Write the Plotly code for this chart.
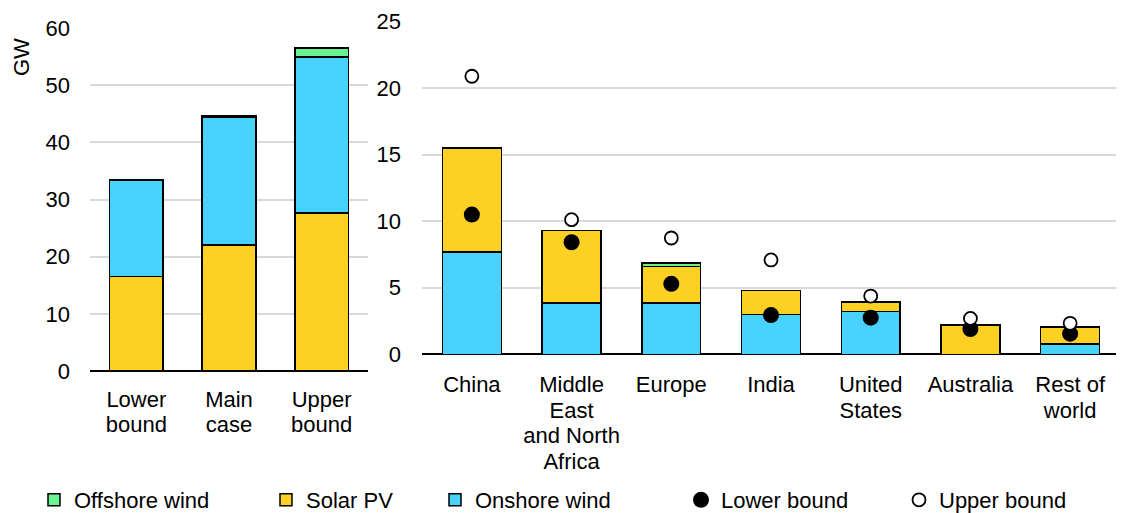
import plotly.graph_objects as go

# ---- data ----
cases = ["Lower bound", "Main case", "Upper bound"]
case_labels = ["Lower<br>bound", "Main<br>case", "Upper<br>bound"]
case_solar = [16.5, 22.0, 27.6]
case_onshore = [16.8, 22.4, 27.3]
case_offshore = [0.2, 0.3, 1.6]

regions = ["China", "Middle East and North Africa", "Europe", "India",
           "United States", "Australia", "Rest of world"]
region_labels = ["China", "Middle<br>East<br>and North<br>Africa", "Europe", "India",
                 "United<br>States", "Australia", "Rest of<br>world"]
reg_onshore = [7.7, 3.85, 3.85, 3.0, 3.2, 0.0, 0.77]
reg_solar = [7.8, 5.45, 2.75, 1.8, 0.73, 2.2, 1.28]
reg_offshore = [0.0, 0.0, 0.25, 0.0, 0.0, 0.0, 0.0]
reg_lower = [10.5, 8.42, 5.3, 2.95, 2.75, 1.9, 1.55]
reg_upper = [20.9, 10.12, 8.74, 7.09, 4.38, 2.7, 2.33]

C_SOLAR = "#FDD124"
C_ON = "#48D3FF"
C_OFF = "#6BF293"
FONT = "Liberation Sans, Arial, sans-serif"
FS = 22
line = dict(color="black", width=1.5)


def wrap(lbl):
    # glyphs at FS px, line pitch set by the (smaller) tick font size
    return "<br>".join(f'<span style="font-size:{FS}px">{p}</span>' for p in lbl.split("<br>"))


fig = go.Figure()

# left panel: solar bottom, onshore, offshore
fig.add_bar(x=cases, y=case_solar, marker=dict(color=C_SOLAR, line=line), width=0.58,
            xaxis="x", yaxis="y", showlegend=False, name="Solar PV")
fig.add_bar(x=cases, y=case_onshore, marker=dict(color=C_ON, line=line), width=0.58,
            xaxis="x", yaxis="y", showlegend=False, name="Onshore wind")
fig.add_bar(x=cases, y=case_offshore, marker=dict(color=C_OFF, line=line), width=0.58,
            xaxis="x", yaxis="y", showlegend=False, name="Offshore wind")

# right panel: onshore bottom, solar, offshore
fig.add_bar(x=regions, y=reg_onshore, marker=dict(color=C_ON, line=line), width=0.59,
            xaxis="x2", yaxis="y2", name="Onshore wind", legend="legend3")
fig.add_bar(x=regions, y=reg_solar, marker=dict(color=C_SOLAR, line=line), width=0.59,
            xaxis="x2", yaxis="y2", name="Solar PV", legend="legend2")
fig.add_bar(x=regions, y=reg_offshore, marker=dict(color=C_OFF, line=line), width=0.59,
            xaxis="x2", yaxis="y2", name="Offshore wind", legend="legend")
fig.add_scatter(x=regions, y=reg_lower, mode="markers", xaxis="x2", yaxis="y2",
                marker=dict(color="black", size=16, line=dict(color="black", width=0)),
                name="Lower bound", legend="legend4")
fig.add_scatter(x=regions, y=reg_upper, mode="markers", xaxis="x2", yaxis="y2",
                marker=dict(color="white", size=13, line=dict(color="black", width=1.8)),
                name="Upper bound", legend="legend5")

# page body has an 8px margin: figure occupies window pixels 8..1124 / 8..513
OFF = 8
W, H = 1124 - OFF, 513 - OFF
def fx(px): return (px - OFF) / W
def fy(py): return (H - (py - OFF)) / H

yaxis_common = dict(showgrid=True, gridcolor="#d9d9d9", gridwidth=1.5, zeroline=True,
                    zerolinecolor="black", zerolinewidth=2, ticks="", showline=False,
                    tickfont=dict(size=FS, color="black", family=FONT))
xaxis_common = dict(showline=False, ticks="", showgrid=False, type="category",
                    tickfont=dict(size=19.7, color="black", family=FONT))

leg_common = dict(orientation="h", font=dict(size=FS, color="black", family=FONT),
                  bgcolor="rgba(0,0,0,0)", xanchor="left", yanchor="middle", y=fy(500))

LEG_TXT = 41  # distance from legend box left to its text start
fig.update_layout(
    width=W, height=H, barmode="stack",
    plot_bgcolor="white", paper_bgcolor="white",
    margin=dict(l=0, r=0, t=0, b=0, autoexpand=False),
    font=dict(family=FONT, color="black"),
    xaxis=dict(domain=[fx(90), fx(368)], anchor="y", **xaxis_common, ticklabelstandoff=15,
               tickmode="array", tickvals=cases, ticktext=[wrap(t) for t in case_labels]),
    yaxis=dict(domain=[fy(371), fy(28)], range=[0, 60], dtick=10, anchor="x",
               ticklabelstandoff=19, **yaxis_common),
    xaxis2=dict(domain=[fx(422), fx(1120)], anchor="y2", **xaxis_common, ticklabelstandoff=17,
                tickmode="array", tickvals=regions, ticktext=[wrap(t) for t in region_labels]),
    yaxis2=dict(domain=[fy(354.3), fy(21.7)], range=[0, 25], dtick=5, anchor="x2",
                ticklabelstandoff=20, **yaxis_common),
    legend=dict(x=fx(75 - LEG_TXT), **leg_common),
    legend2=dict(x=fx(307 - LEG_TXT), **leg_common),
    legend3=dict(x=fx(476 - LEG_TXT), **leg_common),
    legend4=dict(x=fx(722 - LEG_TXT), **leg_common),
    legend5=dict(x=fx(940 - LEG_TXT), **leg_common),
    annotations=[dict(text="GW", x=fx(22), y=fy(57), xref="paper", yref="paper",
                      xanchor="center", yanchor="middle",
                      textangle=-90, showarrow=False,
                      font=dict(size=FS, color="black", family=FONT))],
)

fig.write_html("out.html")
